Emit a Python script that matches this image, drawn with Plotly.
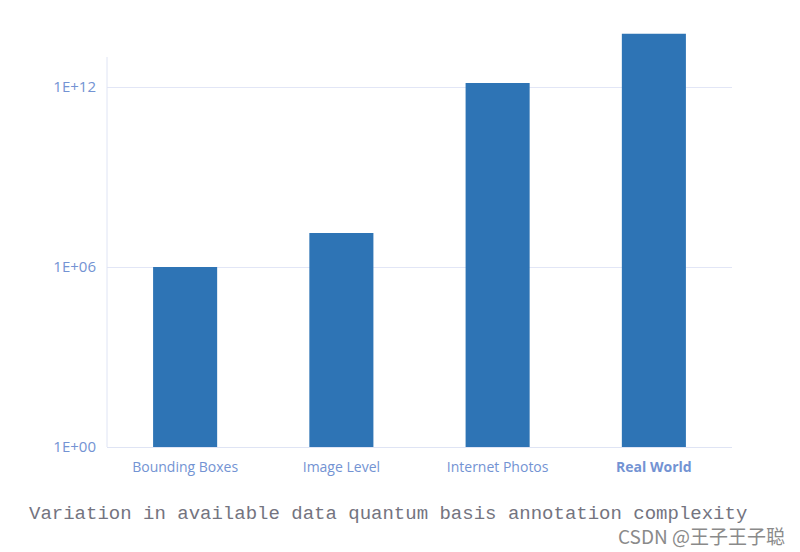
import plotly.graph_objects as go

categories = ["Bounding Boxes", "Image Level", "Internet Photos", "Real World"]
values = [1e6, 1.35e7, 1.35e12, 5.9e13]
tick_vals = [1, 1e6, 1e12]
tick_text = ["1E+00", "1E+06", "1E+12"]
cat_labels = ["Bounding Boxes", "Image Level", "Internet Photos", "<b>Real World</b>"]
caption = "Variation in available data quantum basis annotation complexity"
watermark = "CSDN @王子王子聪"

fig = go.Figure(go.Bar(x=categories, y=values, marker_color="#2e74b5",
                       marker_line_width=0, width=0.41))

fig.update_layout(
    width=800, height=552,
    margin=dict(l=107, r=68, t=30, b=105),
    paper_bgcolor="white", plot_bgcolor="white",
    showlegend=False,
    font=dict(family="Open Sans", color="#6f8fcf"),
    xaxis=dict(tickvals=categories, ticktext=cat_labels, showgrid=False,
               showline=True, linecolor="#dfe4f4", linewidth=1,
               tickfont=dict(size=14, color="#7393d3"), ticks="", ticklen=0,
               ticklabelstandoff=7),
    yaxis=dict(type="log", range=[0, 13.9], tickvals=tick_vals, ticktext=tick_text,
               showgrid=True, gridcolor="#e2e6f6", gridwidth=1, zeroline=False,
               showline=False, tickfont=dict(size=15, color="#7393d3"), ticks="",
               ticklabelstandoff=10),
)
# y axis line (stops at 1E+13 like the reference)
fig.add_shape(type="line", xref="paper", yref="y", x0=0, x1=0, y0=1, y1=1e13,
              line=dict(color="#dfe4f4", width=1))
fig.add_annotation(text=caption, xref="paper", yref="paper", x=-107/625 + 27/625, y=-(514-447)/417,
                   xanchor="left", yanchor="middle", showarrow=False,
                   font=dict(family="Liberation Mono", size=19, color="#74747f"))
fig.add_annotation(text=watermark, xref="paper", yref="paper", x=(787-107)/625, y=-(535-447)/417,
                   xanchor="right", yanchor="middle", showarrow=False,
                   font=dict(family="Noto Sans CJK SC", size=19, color="#8a8a8a"))

fig.write_html("out.html")
